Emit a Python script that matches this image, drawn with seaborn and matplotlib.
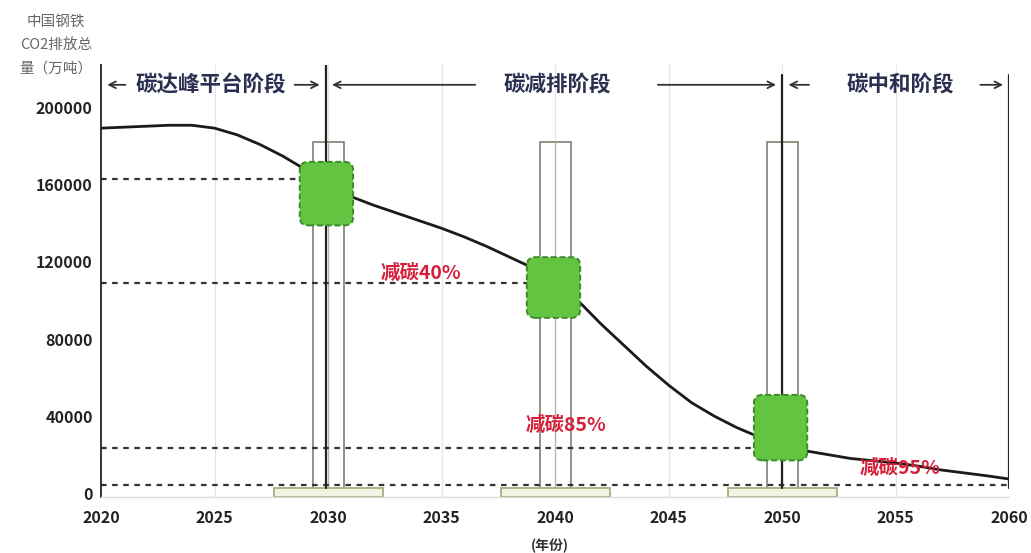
import numpy as np
import pandas as pd
import seaborn as sns
import matplotlib
matplotlib.use("Agg")
import matplotlib.pyplot as plt
from matplotlib.patches import FancyBboxPatch, Rectangle

# ---------------- data ----------------
years = list(range(2020, 2061))
emissions = [189500, 190000, 190500, 191000, 191000, 189500, 186000, 181000, 175000, 168000,
             160000, 154000, 149500, 145500, 141500, 137500, 133000, 128000, 122500, 117000,
             110000, 100000, 88000, 77000, 66000, 56000, 47000, 40000, 34000, 29000,
             25000, 22000, 20000, 18000, 16800, 15600, 14000, 12000, 10500, 9000, 7300]

milestone_years = [2030, 2040, 2050]
box_low = [139000, 91000, 17000]
box_high = [172000, 122500, 51000]
column_top = 182300

ref_levels = [163000, 109000, 23500, 4000]
ref_ends = [2029.6, 2039.6, 2050.0, 2060]

reduction_labels = ["减碳40%", "减碳85%", "减碳95%"]
reduction_x = [2032.3, 2038.7, 2053.4]
reduction_y = [114300, 35300, 13000]

phase_names = ["碳达峰平台阶段", "碳减排阶段", "碳中和阶段"]
phase_centers = [2024.85, 2040.1, 2055.2]
phase_bounds = [2029.9, 2050.0, 2060.0]

xticks = [2020, 2025, 2030, 2035, 2040, 2045, 2050, 2055, 2060]
yticks = [0, 40000, 80000, 120000, 160000, 200000]

# ---------------- style ----------------
sns.set_theme(style="white")
plt.rcParams['font.family'] = ['Noto Sans CJK SC', 'DejaVu Sans']

fig = plt.figure(figsize=(10.31, 5.53), dpi=100)
ax = fig.add_axes([0.098, 0.101, 0.881, 0.7815])
ax.set_xlim(2020, 2060)
ax.set_ylim(-2100, 222300)

# faint vertical grid
for xt in xticks[1:-1]:
    ax.axvline(xt, color="#e6e6e6", lw=0.9, zorder=0)

# tall open columns and bottom bases
for yr in milestone_years:
    ax.add_patch(Rectangle((yr - 0.68, 0), 1.36, column_top, fill=False,
                           edgecolor="#7d8070", lw=1.2, zorder=2))
    ax.plot([yr, yr], [0, column_top], color="#b0b3a5", lw=0.9, zorder=2)
    ax.add_patch(Rectangle((yr - 2.4, -1800), 4.8, 4400, facecolor="#f3f3e4",
                           edgecolor="#a9ad7f", lw=1.3, zorder=2))

# dashed reference lines
for lvl, end in zip(ref_levels, ref_ends):
    ax.plot([2020, end], [lvl, lvl], color="#333333", lw=1.6,
            ls=(0, (2.5, 2.5)), zorder=3)

# phase boundary lines
for b in phase_bounds:
    top = 222300 if b < 2040 else 217000
    ax.plot([b, b], [2500, top], color="#222222", lw=1.6, zorder=4)

# emission curve
df = pd.DataFrame({"year": years, "emission": emissions})
sns.lineplot(data=df, x="year", y="emission", ax=ax, color="#1a1a1a", lw=2.0, zorder=5)

# green rounded boxes
for yr, lo, hi in zip(milestone_years, box_low, box_high):
    ax.add_patch(FancyBboxPatch((yr - 1.25, lo), 2.35, hi - lo,
                                boxstyle="round,pad=0,rounding_size=0.38",
                                mutation_aspect=11000,
                                facecolor="#63c441", edgecolor="#3c8a28",
                                lw=1.4, ls=(0, (3, 1.5)), zorder=6))

# reduction labels
for t, x, y in zip(reduction_labels, reduction_x, reduction_y):
    ax.text(x, y, t, color="#d42038", fontsize=14, fontweight="bold",
            ha="left", va="center", zorder=7)

# phase labels and arrows
lab_y = 212000
navy = "#2b3050"
for name, cx in zip(phase_names, phase_centers):
    ax.text(cx, lab_y, name, color=navy, fontsize=15.5, fontweight="bold",
            ha="center", va="center", zorder=7)

def arrow(x0, x1):
    ax.annotate("", xy=(x1, lab_y), xytext=(x0, lab_y),
                arrowprops=dict(arrowstyle="->", color="#333333", lw=1.3,
                                mutation_scale=12), zorder=7)

arrow(2021.2, 2020.15)
arrow(2028.4, 2029.75)
arrow(2036.6, 2030.05)
arrow(2044.4, 2049.85)
arrow(2051.3, 2050.15)
arrow(2058.6, 2059.85)

# axes styling
ax.set_xticks(xticks)
ax.set_yticks(yticks)
ax.set_xticklabels([str(v) for v in xticks], fontsize=11.5, fontweight="bold", color="#222222")
ax.set_yticklabels([str(v) for v in yticks], fontsize=11.5, fontweight="bold", color="#222222")
ax.tick_params(axis="y", direction="in", length=4, width=1, color="#333333", pad=6)
ax.tick_params(axis="x", length=0, pad=9)
for s in ["top", "right"]:
    ax.spines[s].set_visible(False)
ax.spines["left"].set_color("#333333")
ax.spines["left"].set_linewidth(1.4)
ax.spines["bottom"].set_color("#dddddd")
ax.spines["bottom"].set_linewidth(1.0)
ax.set_xlabel("")
ax.set_ylabel("")

fig.text(550 / 1031, 1 - 546 / 553, "(年份)", fontsize=10, fontweight="bold",
         color="#333333", ha="center", va="center")
fig.text(56 / 1031, 1 - 45 / 553, "中国钢铁\nCO2排放总\n量（万吨）", fontsize=10.5,
         color="#666666", ha="center", va="center", linespacing=1.85)

fig.savefig("out.png", dpi=100, facecolor="white")
